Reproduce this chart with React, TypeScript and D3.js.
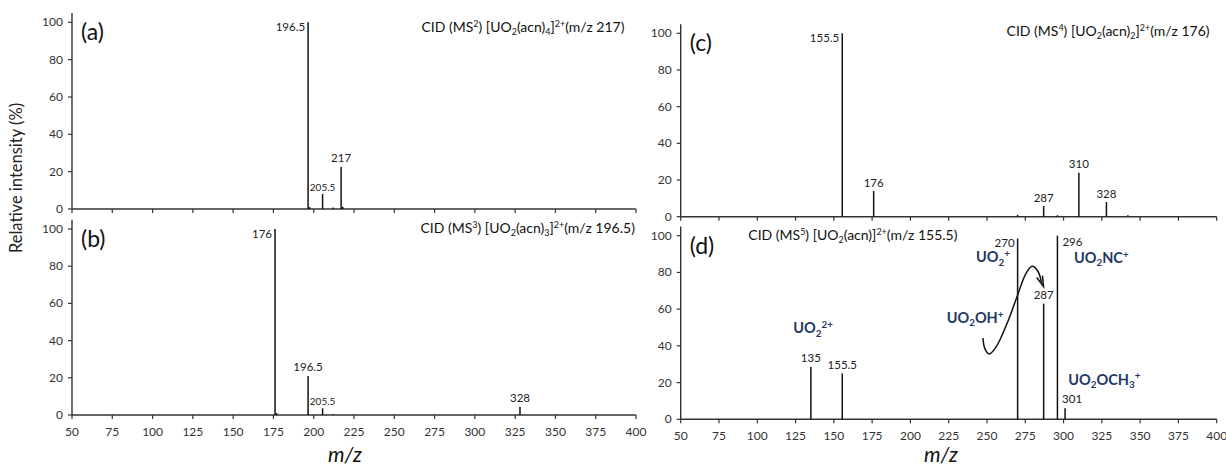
import React from "react";
import * as d3 from "d3";

type Peak = { mz: number; intensity: number };
type Seg = [string, string];

// ---------- data ----------
const xTickValues = [50, 75, 100, 125, 150, 175, 200, 225, 250, 275, 300, 325, 350, 375, 400];
const yTickValues = [0, 20, 40, 60, 80, 100];

const peaksA: Peak[] = [
  { mz: 196.5, intensity: 100 },
  { mz: 197.5, intensity: 1 },
  { mz: 205.5, intensity: 8 },
  { mz: 212, intensity: 0.8 },
  { mz: 217, intensity: 22.5 },
  { mz: 218, intensity: 1.2 },
];
const labelsA = [196.5, 205.5, 217];
const placeA = ["left", "small", "center"];

const peaksB: Peak[] = [
  { mz: 176, intensity: 100 },
  { mz: 177, intensity: 1 },
  { mz: 196.5, intensity: 21 },
  { mz: 205.5, intensity: 3.6 },
  { mz: 212, intensity: 0.5 },
  { mz: 328, intensity: 4.5 },
];
const labelsB = [176, 196.5, 205.5, 328];
const placeB = ["left", "center", "small", "center"];

const peaksC: Peak[] = [
  { mz: 155.5, intensity: 100 },
  { mz: 176, intensity: 14 },
  { mz: 270, intensity: 1 },
  { mz: 287, intensity: 5.8 },
  { mz: 296, intensity: 0.8 },
  { mz: 310, intensity: 24 },
  { mz: 328, intensity: 8 },
  { mz: 342, intensity: 0.8 },
];
const labelsC = [155.5, 176, 287, 310, 328];
const placeC = ["left", "center", "center", "center", "center"];

const peaksD: Peak[] = [
  { mz: 135, intensity: 28.5 },
  { mz: 155.5, intensity: 25 },
  { mz: 270, intensity: 98.5 },
  { mz: 287, intensity: 63 },
  { mz: 296, intensity: 100 },
  { mz: 301, intensity: 6 },
];
const labelsD = [135, 155.5, 270, 287, 296, 301];
const placeD = ["center", "center", "left", "center", "right", "centerRight"];

const titleA: Seg[] = [["CID (MS", ""], ["2", "sup"], [") [UO", ""], ["2", "sub"], ["(acn)", ""], ["4", "sub"], ["]", ""], ["2+", "sup"], ["(m/z 217)", ""]];
const titleB: Seg[] = [["CID (MS", ""], ["3", "sup"], [") [UO", ""], ["2", "sub"], ["(acn)", ""], ["3", "sub"], ["]", ""], ["2+", "sup"], ["(m/z 196.5)", ""]];
const titleC: Seg[] = [["CID (MS", ""], ["4", "sup"], [") [UO", ""], ["2", "sub"], ["(acn)", ""], ["2", "sub"], ["]", ""], ["2+", "sup"], ["(m/z 176)", ""]];
const titleD: Seg[] = [["CID (MS", ""], ["5", "sup"], [") [UO", ""], ["2", "sub"], ["(acn)]", ""], ["2+", "sup"], ["(m/z 155.5)", ""]];

// ion annotations of panel (d), anchored in data coordinates (m/z, intensity)
const ionNames: Seg[][] = [
  [["UO", ""], ["2", "sub"], ["2+", "sup"]],
  [["UO", ""], ["2", "sub"], ["+", "sup"]],
  [["UO", ""], ["2", "sub"], ["NC", ""], ["+", "sup"]],
  [["UO", ""], ["2", "sub"], ["OH", ""], ["+", "sup"]],
  [["UO", ""], ["2", "sub"], ["OCH", ""], ["3", "sub"], ["+", "sup"]],
];
const ionAnchorMz = [123.5, 242.8, 306.8, 223.7, 303.1];
const ionAnchorInt = [46.8, 85.5, 85, 52.3, 18.7];

// curved arrow (UO2OH+ -> 287), in data coordinates
const arrowMz = [247.4, 248.6, 251.5, 256, 263, 269.6, 275.5, 279.5, 283.3, 285.6];
const arrowInt = [44.3, 38.5, 35.6, 39.5, 52, 66.8, 79.5, 83.3, 80.5, 74.5];

// ---------- layout ----------
const FONT = "Lato, 'Open Sans', sans-serif";
const NAVY = "#1f3864";

const panelDefs = [
  { tag: "(a)", peaks: peaksA, labels: labelsA, place: placeA, title: titleA, titleX: 421.5, titleY: 32, titleAnchor: "start", left: 72, right: 636, y0: 209, y100: 22.3, xLabels: false },
  { tag: "(b)", peaks: peaksB, labels: labelsB, place: placeB, title: titleB, titleX: 420.5, titleY: 233, titleAnchor: "start", left: 72, right: 636, y0: 415, y100: 229, xLabels: true },
  { tag: "(c)", peaks: peaksC, labels: labelsC, place: placeC, title: titleC, titleX: 1209.5, titleY: 36, titleAnchor: "end", left: 680.7, right: 1216.7, y0: 216.7, y100: 33.3, xLabels: false },
  { tag: "(d)", peaks: peaksD, labels: labelsD, place: placeD, title: titleD, titleX: 748.3, titleY: 240, titleAnchor: "start", left: 680.7, right: 1216.7, y0: 419.3, y100: 235.7, xLabels: true },
];

function RichText(props: { segs: Seg[]; x: number; y: number; fs: number; fill: string; weight?: string | number; anchor?: string; scriptScale?: number }) {
  const { segs, x, y, fs, fill, weight, anchor } = props;
  const sc = props.scriptScale || 0.68;
  let cur = 0;
  return (
    <text x={x} y={y} fontSize={fs} fill={fill} fontFamily={FONT} fontWeight={weight || "normal"} textAnchor={anchor || "start"}>
      {segs.map(([t, k], i) => {
        const target = k === "sup" ? -0.38 * fs : k === "sub" ? 0.22 * fs : 0;
        const dy = target - cur;
        cur = target;
        const small = k !== "";
        return (
          <tspan key={i} dy={dy} fontSize={small ? fs * sc : fs}>
            {t}
          </tspan>
        );
      })}
    </text>
  );
}

function Panel(props: { def: (typeof panelDefs)[number]; isD: boolean }) {
  const { def, isD } = props;
  const x = d3.scaleLinear().domain([50, 400]).range([def.left, def.right]);
  const k = (def.y0 - def.y100) / 100;
  const y = d3.scaleLinear().domain([0, 105]).range([def.y0, def.y0 - 105 * k]);
  const axisColor = "#333";
  const arrowPts = arrowMz.map((m, i) => [x(m), y(arrowInt[i])] as [number, number]);
  const arrowPath = d3.line().curve(d3.curveCatmullRom.alpha(0.5))(arrowPts) || "";
  const end = arrowPts[arrowPts.length - 1];
  const prev = arrowPts[arrowPts.length - 2];
  const ang = Math.atan2(end[1] - prev[1], end[0] - prev[0]);
  const ah = 7;
  const head = [
    [end[0] - ah * Math.cos(ang - 0.45), end[1] - ah * Math.sin(ang - 0.45)],
    [end[0] + 2, end[1] + 4],
    [end[0] - ah * Math.cos(ang + 0.45), end[1] - ah * Math.sin(ang + 0.45)],
  ];

  return (
    <g>
      {/* axes */}
      <line x1={def.left} x2={def.right} y1={y(0)} y2={y(0)} stroke={axisColor} strokeWidth={1.4} />
      <line x1={def.left} x2={def.left} y1={y(0)} y2={y(105)} stroke={axisColor} strokeWidth={1.4} />
      {xTickValues.map((t) => (
        <g key={"xt" + t}>
          <line x1={x(t)} x2={x(t)} y1={y(0)} y2={y(0) + 4} stroke={axisColor} strokeWidth={1.2} />
          {def.xLabels && (
            <text x={x(t)} y={y(0) + 20.5} fontSize={12} fill="#333" textAnchor="middle" fontFamily={FONT}>
              {t}
            </text>
          )}
        </g>
      ))}
      {yTickValues.map((t) => (
        <g key={"yt" + t}>
          <line x1={def.left - 4} x2={def.left} y1={y(t)} y2={y(t)} stroke={axisColor} strokeWidth={1.2} />
          <text x={def.left - 9} y={y(t) + 4} fontSize={12} fill="#333" textAnchor="end" fontFamily={FONT}>
            {t}
          </text>
        </g>
      ))}
      {/* peaks */}
      {def.peaks.map((p, i) => (
        <line key={"p" + i} x1={x(p.mz)} x2={x(p.mz)} y1={y(0)} y2={y(p.intensity)} stroke="#111" strokeWidth={1.5} />
      ))}
      {/* peak labels */}
      {def.labels.map((m, i) => {
        const p = def.peaks.find((q) => q.mz === m)!;
        const pl = def.place[i];
        const px = x(m);
        const top = y(p.intensity);
        let tx = px, ty = top - 4.5, anchor = "middle", fs = 11.5;
        if (pl === "left") { tx = px - 3; ty = top + 8.5; anchor = "end"; }
        if (pl === "right") { tx = px + 5; ty = top + 10; anchor = "start"; }
        if (pl === "small") { fs = 10; ty = top - 3.5; }
        if (pl === "centerRight") { tx = px + 7; ty = top - 5.5; }
        return (
          <text key={"l" + i} x={tx} y={ty} fontSize={fs} fill="#222" textAnchor={anchor} fontFamily={FONT}>
            {String(m)}
          </text>
        );
      })}
      {/* panel tag and title */}
      <text x={def.left + 9} y={def.y100 + 18} fontSize={23} fill="#111" fontFamily={FONT}>
        {def.tag}
      </text>
      <RichText segs={def.title} x={def.titleX} y={def.titleY} fs={14} fill="#111" scriptScale={0.64} anchor={def.titleAnchor} />
      {isD && (
        <g>
          {ionNames.map((segs, i) => (
            <RichText key={"ion" + i} segs={segs} x={x(ionAnchorMz[i])} y={y(ionAnchorInt[i])} fs={14.5} fill={NAVY} weight={700} />
          ))}
          <path d={arrowPath} fill="none" stroke="#111" strokeWidth={1.5} />
          <polyline points={head.map((h) => h.join(",")).join(" ")} fill="none" stroke="#111" strokeWidth={1.5} />
        </g>
      )}
    </g>
  );
}

export default function App() {
  return (
    <svg width={1226} height={465} style={{ position: "absolute", left: 0, top: 0, background: "#fff" }}>
      <rect x={0} y={0} width={1226} height={465} fill="#fff" />
      {panelDefs.map((d, i) => (
        <Panel key={i} def={d} isD={i === 3} />
      ))}
      <text transform="translate(22,178) rotate(-90)" fontSize={16.5} fill="#222" textAnchor="middle" fontFamily={FONT}>
        Relative intensity (%)
      </text>
      <text x={345} y={462} fontSize={21} fontStyle="italic" fill="#111" textAnchor="middle" fontFamily={FONT}>
        m/z
      </text>
      <text x={941} y={462} fontSize={21} fontStyle="italic" fill="#111" textAnchor="middle" fontFamily={FONT}>
        m/z
      </text>
    </svg>
  );
}
